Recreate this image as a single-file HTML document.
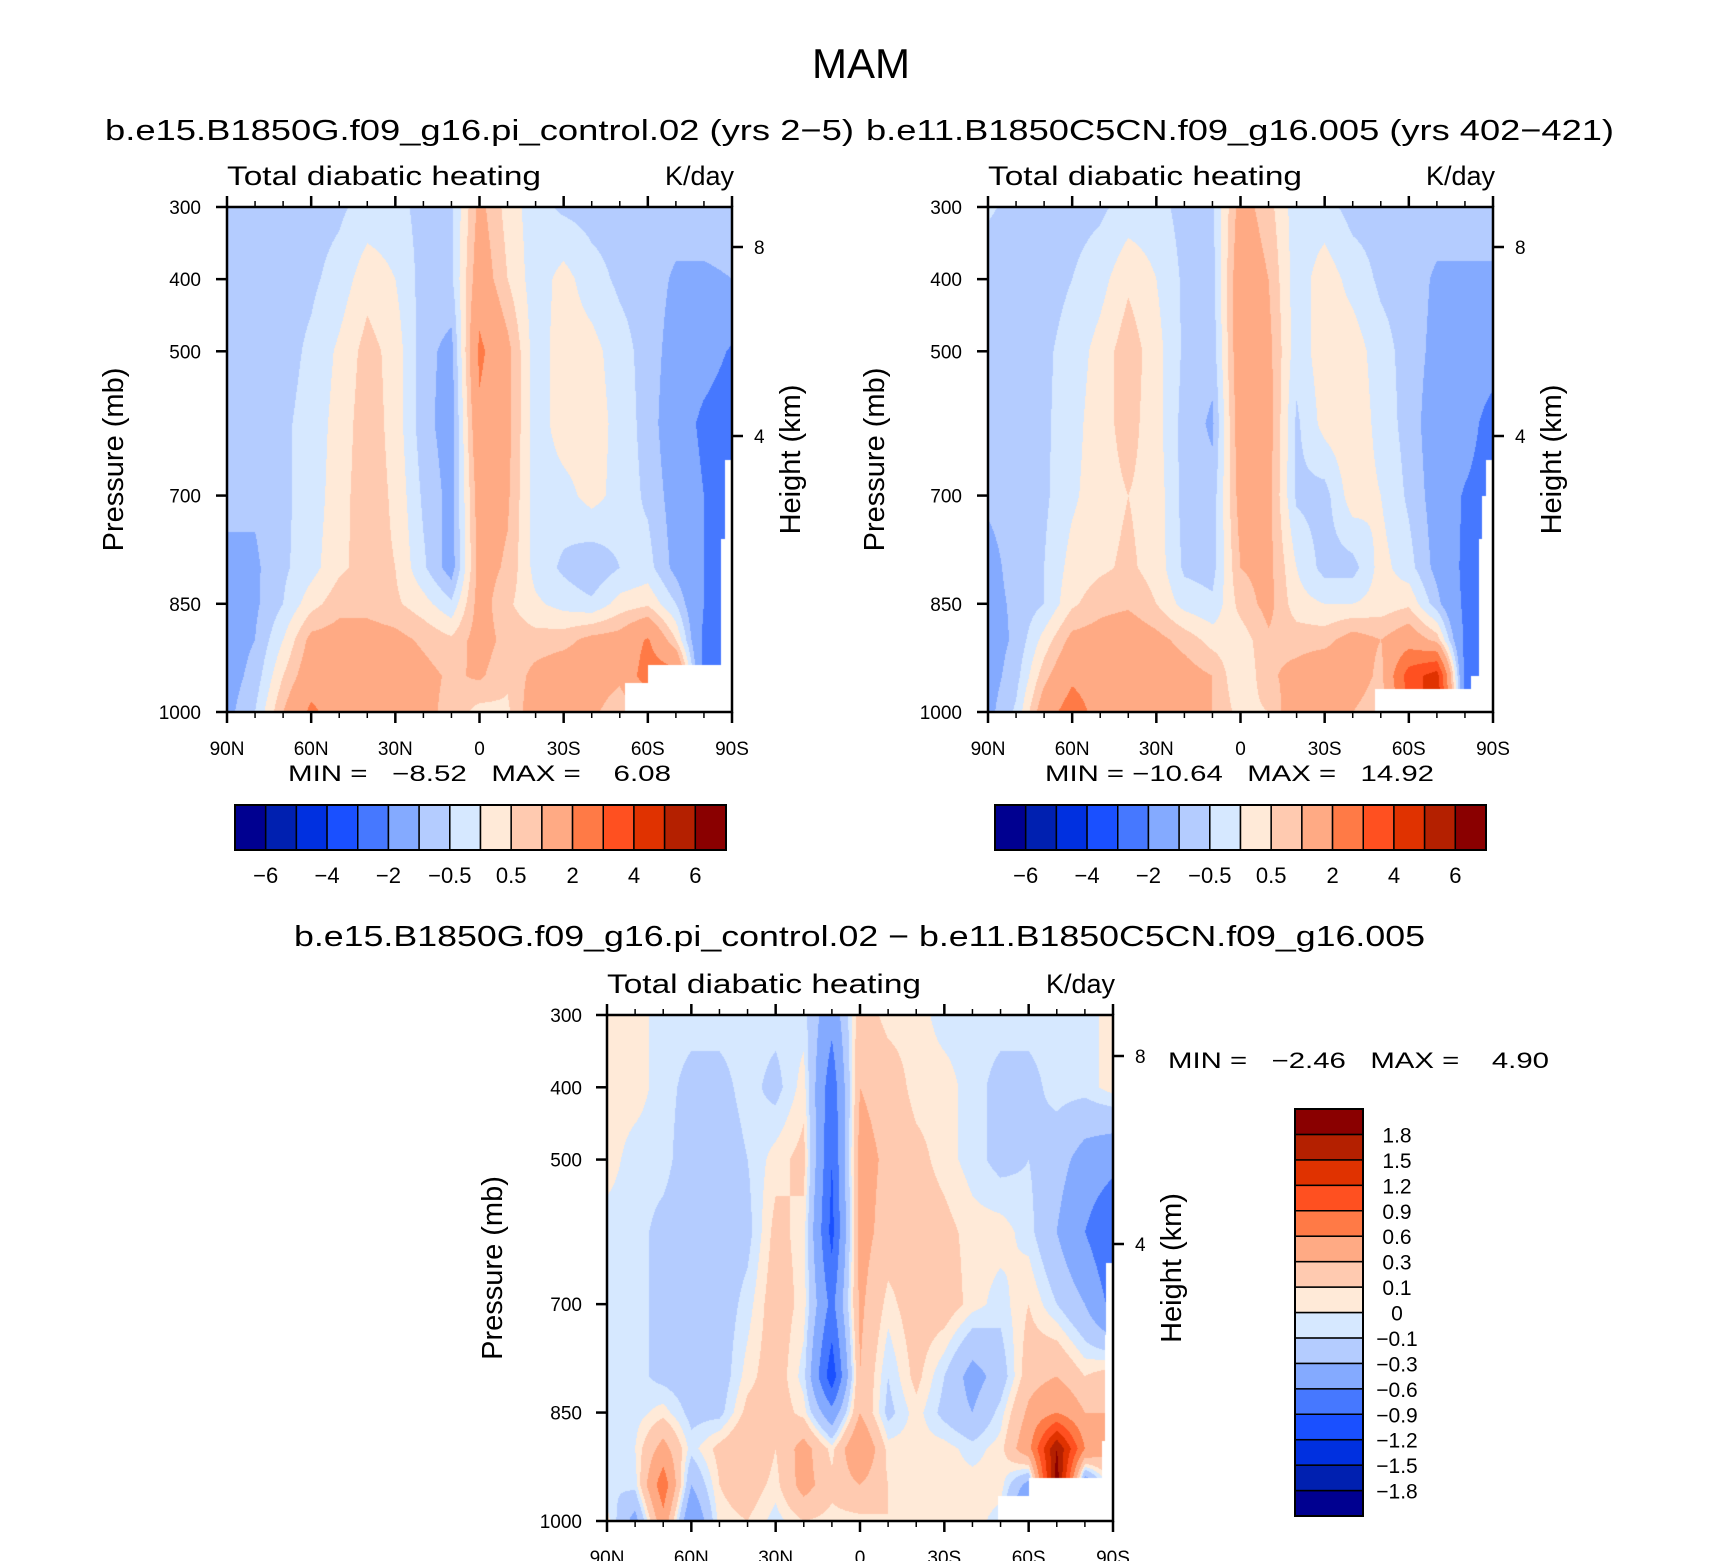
<!DOCTYPE html>
<html><head><meta charset="utf-8">
<style>
html,body{margin:0;padding:0;background:#fff;}
#root{position:relative;width:1710px;height:1561px;overflow:hidden;background:#fff;font-family:"Liberation Sans",sans-serif;}
canvas{position:absolute;}
svg{position:absolute;left:0;top:0;}
</style></head>
<body>
<div id="root">
<canvas id="cL"></canvas>
<canvas id="cR"></canvas>
<canvas id="cD"></canvas>
<svg id="ov" width="1710" height="1561"></svg>
</div>
<script>
const lats = [90,80,70,60,50,40,30,20,10,0,-10,-20,-30,-40,-50,-60,-70,-80,-90];
const plevs = [300,400,500,600,700,800,850,900,950,1000];
const colors = ["#000090","#0020b0","#0030e0","#1a50ff","#4678ff","#84aaff","#b4ccff","#d6e8ff","#ffead8","#ffcab0","#ffaa84","#ff7a46","#ff5020","#e03200","#b42000","#8a0000"];
const topLevels = [-6,-5,-4,-3,-2,-1,-0.5,0,0.5,1,2,3,4,5,6];
const topLabels = ["−6","−4","−2","−0.5","0.5","2","4","6"];
const diffLevels = [-1.8,-1.5,-1.2,-0.9,-0.6,-0.3,-0.1,0,0.1,0.3,0.6,0.9,1.2,1.5,1.8];
const diffLabels = ["−1.8","−1.5","−1.2","−0.9","−0.6","−0.3","−0.1","0","0.1","0.3","0.6","0.9","1.2","1.5","1.8"];
const xTickLabels = ["90N","60N","30N","0","30S","60S","90S"];
const yTickValues = [300,400,500,700,850,1000];
const leftVals = [
[-0.7,-0.7,-0.7,-0.7,-0.6,-0.3,-0.3,-0.7,-0.6,1.2,0.3,-0.3,-0.6,-0.7,-0.7,-0.7,-0.7,-0.7,-0.7],
[-0.7,-0.7,-0.7,-0.6,-0.3,0.3,0.0,-0.7,-0.6,1.5,0.5,-0.3,0.2,-0.3,-0.6,-0.7,-1.1,-1.1,-1.0],
[-0.7,-0.7,-0.7,-0.4,0.1,0.7,0.3,-0.8,-1.2,2.2,1.2,-0.3,0.3,0.2,-0.3,-0.7,-1.3,-1.6,-2.1],
[-0.7,-0.7,-0.6,-0.3,0.2,0.8,0.3,-0.8,-1.3,1.8,1.2,-0.3,0.3,0.3,-0.2,-0.7,-1.5,-2.2,-2.5],
[-0.8,-0.9,-0.6,-0.3,0.3,0.8,0.4,-0.6,-1.2,1.4,1.1,-0.3,-0.2,0.2,-0.2,-0.6,-1.3,-2.0,-2.4],
[-1.2,-1.1,-0.6,-0.2,0.4,0.7,0.5,-0.4,-1.3,1.3,0.9,-0.2,-0.6,-0.9,-0.5,-0.3,-1.2,-2.0,-2.3],
[-1.2,-1.1,-0.5,0.3,0.8,0.8,0.6,0.2,-0.4,1.3,0.6,0.1,-0.2,-0.4,0.2,0.4,-0.5,-2.0,-2.3],
[-1.3,-1.0,0.0,1.2,1.3,1.3,1.2,0.9,0.6,1.3,0.8,0.7,0.8,1.2,1.3,2.1,0.5,-2.2,-2.5],
[-1.3,-0.8,0.5,1.5,1.5,1.6,1.4,1.2,0.9,1.1,0.6,1.2,1.5,1.5,1.2,2.5,2.5,-2.4,-2.5],
[-1.2,-0.5,1.0,2.2,1.5,1.5,1.4,1.2,0.8,0.3,0.4,1.5,1.5,1.2,0.5,1.2,1.5,-2.4,-2.5]];
const rightVals = [
[-0.45,-0.6,-0.7,-0.7,-0.6,-0.3,-0.3,-0.7,-0.6,1.3,0.7,-0.3,-0.3,-0.7,-0.7,-0.7,-0.7,-0.7,-0.7],
[-0.7,-0.7,-0.7,-0.5,-0.2,0.4,0.0,-0.6,-0.7,1.6,1.0,-0.3,0.3,-0.2,-0.6,-0.7,-1.1,-1.1,-1.1],
[-0.7,-0.7,-0.6,-0.3,0.2,0.8,0.2,-0.6,-0.8,1.6,1.2,-0.3,0.3,0.3,-0.3,-0.7,-1.2,-1.3,-1.4],
[-0.7,-0.7,-0.6,-0.2,0.3,0.7,0.2,-0.7,-1.1,1.5,1.3,-0.6,0.2,0.4,-0.2,-0.7,-1.4,-1.5,-2.5],
[-0.9,-0.8,-0.6,-0.1,0.3,0.5,0.3,-0.7,-0.8,1.3,1.2,-0.6,-0.7,0.3,0.0,-0.6,-1.3,-2.1,-2.5],
[-1.2,-0.8,-0.5,0.2,0.4,0.6,0.3,-0.6,-0.7,1.0,1.2,0.0,-0.7,-0.7,0.2,-0.3,-1.2,-2.2,-2.5],
[-1.2,-0.9,-0.5,0.4,0.8,0.9,0.5,-0.2,-0.4,0.7,1.2,0.2,0.0,0.0,0.2,0.4,-0.8,-2.2,-2.5],
[-1.3,-0.9,0.2,1.2,1.3,1.5,1.2,0.8,0.3,0.2,0.9,0.8,0.8,1.3,1.0,1.5,0.8,-2.2,-2.5],
[-1.3,-0.7,0.8,1.8,1.5,1.6,1.4,1.3,1.0,0.0,0.9,1.2,1.6,1.5,0.8,3.5,4.5,-2.3,-2.5],
[-1.2,-0.4,1.5,2.5,1.6,1.6,1.5,1.3,1.0,0.3,0.5,1.6,1.5,1.0,0.5,3.0,5.0,-2.4,-2.5]];
const diffVals = [
[0.05,0.05,-0.05,-0.05,-0.05,-0.05,-0.05,-0.05,-0.5,0.2,0.05,0.05,-0.05,-0.05,-0.05,-0.05,-0.05,-0.05,0.05],
[0.05,0.05,-0.05,-0.15,-0.15,-0.05,-0.15,0.05,-0.8,0.3,0.2,0.05,0.05,-0.05,-0.15,-0.15,-0.05,-0.05,0.05],
[0.05,-0.05,-0.05,-0.2,-0.2,-0.1,0.05,0.15,-0.9,0.4,0.25,0.15,0.05,-0.05,-0.15,-0.1,-0.2,-0.4,-0.5],
[-0.05,-0.05,-0.15,-0.2,-0.2,-0.15,0.15,0.05,-1.0,0.4,0.2,0.2,0.15,0.05,0.05,-0.05,-0.3,-0.6,-0.9],
[-0.05,-0.05,-0.15,-0.2,-0.2,-0.05,0.2,0.05,-0.7,0.35,0.05,0.2,0.2,0.05,-0.05,0.1,-0.1,-0.3,-0.7],
[-0.05,-0.05,-0.15,-0.2,-0.2,0.05,0.2,-0.05,-1.1,0.3,-0.1,0.15,-0.1,-0.4,-0.2,0.2,0.3,0.1,0.2],
[-0.05,-0.05,0.05,-0.15,-0.15,0.15,0.2,0.05,-0.5,0.3,-0.15,0.05,-0.15,-0.3,-0.05,0.35,0.6,0.3,0.3],
[-0.05,0.0,0.4,-0.05,0.15,0.3,0.1,0.4,0.05,0.6,0.05,0.05,0.05,-0.05,0.05,0.5,1.8,0.6,0.3],
[-0.1,-0.05,0.8,-0.3,0.1,0.2,0.05,0.4,0.15,0.3,0.1,0.05,0.05,0.05,0.05,-0.4,2.0,-0.6,0.2],
[0.05,-0.4,0.5,-0.6,0.05,0.1,-0.05,0.1,0.05,0.05,0.1,0.05,0.05,0.05,-0.05,-0.8,2.0,-0.8,0.0]];
// below-ground masks: [southern latitude start, southern latitude end, pressure top]
const leftMask = [[52,90,960],[60,90,935],[86,90,760],[87.5,90,650]];
const rightMask = [[48,90,968],[82,90,950],[85,90,760],[86,90,700],[87.6,90,650]];
const diffMask = [[49,90,965],[60,90,940],[86,90,889],[87,90,743],[87.6,90,643]];

const NS="http://www.w3.org/2000/svg";
const ov=document.getElementById('ov');
function el(tag,attrs,parent){const e=document.createElementNS(NS,tag);for(const k in attrs)e.setAttribute(k,attrs[k]);(parent||ov).appendChild(e);return e;}
function txt(s,attrs){const t=el('text',Object.assign({fill:'#000','font-family':'Liberation Sans, sans-serif'},attrs));t.textContent=s;return t;}
function hex(c){return [parseInt(c.substr(1,2),16),parseInt(c.substr(3,2),16),parseInt(c.substr(5,2),16)];}
const rgb=colors.map(hex);

function interp(vals,lat,p){
  let fi=(90-lat)/10; fi=Math.max(0,Math.min(17.9999,fi));
  const i=Math.floor(fi), ti=fi-i;
  let j=0; while(j<plevs.length-2 && p>plevs[j+1]) j++;
  let tj=(p-plevs[j])/(plevs[j+1]-plevs[j]); tj=Math.max(0,Math.min(1,tj));
  const a=vals[j][i]*(1-ti)+vals[j][i+1]*ti;
  const b=vals[j+1][i]*(1-ti)+vals[j+1][i+1]*ti;
  return a*(1-tj)+b*tj;
}
function drawField(id,vals,levels,mask,x0,y0,w,h){
  const c=document.getElementById(id);
  c.width=w;c.height=h;c.style.left=x0+'px';c.style.top=y0+'px';
  const ctx=c.getContext('2d');const img=ctx.createImageData(w,h);
  for(let py=0;py<h;py++){
    const p=300+700*(py+0.5)/h;
    for(let px=0;px<w;px++){
      const lat=90-180*(px+0.5)/w;
      let k=(py*w+px)*4;
      let masked=false;
      for(const m of mask){if(-lat>m[0]&&-lat<=m[1]&&p>m[2]){masked=true;break;}}
      let col=[255,255,255];
      if(!masked){const v=interp(vals,lat,p);let idx=0;while(idx<levels.length&&v>=levels[idx])idx++;col=rgb[idx];}
      img.data[k]=col[0];img.data[k+1]=col[1];img.data[k+2]=col[2];img.data[k+3]=255;
    }
  }
  ctx.putImageData(img,0,0);
}

function axes(name,x0,y0,w,h,ylabX,pressX,heightX,km8,km4){
  const g=el('g',{});
  
  
  const xs=lat=>x0+(90-lat)/180*w;
  const ys=p=>y0+(p-300)/700*h;
  for(let lat=90;lat>=-90;lat-=10){
    const major=(lat%30===0);const L=major?11:6;
    el('line',{x1:xs(lat),x2:xs(lat),y1:y0,y2:y0-L,stroke:'#000','stroke-width':major?2.5:1.5},g);
    el('line',{x1:xs(lat),x2:xs(lat),y1:y0+h,y2:y0+h+L,stroke:'#000','stroke-width':major?2.5:1.5},g);
  }
  xTickLabels.forEach((s,i)=>{const t=txt(s,{x:xs(90-30*i),y:y0+h+43,'font-size':19,'text-anchor':'middle'});g.appendChild(t);});
  yTickValues.forEach(p=>{
    el('line',{x1:x0,x2:x0-11,y1:ys(p),y2:ys(p),stroke:'#000','stroke-width':2.5},g);
    const t=txt(String(p),{x:ylabX,y:ys(p)+7,'font-size':19,'text-anchor':'end'});g.appendChild(t);
  });
  [[km8,'8'],[km4,'4']].forEach(([y,s])=>{
    el('line',{x1:x0+w,x2:x0+w+11,y1:y,y2:y,stroke:'#000','stroke-width':2.5},g);
    const t=txt(s,{x:x0+w+22,y:y+7,'font-size':19});g.appendChild(t);
  });
  el('rect',{x:x0,y:y0,width:w,height:h,fill:'none',stroke:'#000','stroke-width':2.5},g);
  const pt=txt('Pressure (mb)',{x:0,y:0,'font-size':29,'text-anchor':'middle',transform:`translate(${pressX},${y0+h/2}) rotate(-90)`});
  g.appendChild(pt);
  const ht=txt('Height (km)',{x:0,y:0,'font-size':29,'text-anchor':'middle',transform:`translate(${heightX},${y0+h/2}) rotate(-90)`});
  g.appendChild(ht);
  const a=txt('Total diabatic heating',{x:x0,y:y0-22,'font-size':27,textLength:314,lengthAdjust:'spacingAndGlyphs'});
  g.appendChild(a);
  const b=txt('K/day',{x:x0+w+2,y:y0-22,'font-size':27,'text-anchor':'end'});
  g.appendChild(b);
}

function hbar(name,x0,y0,w,h){
  const g=el('g',{});
  
  
  const bw=w/colors.length;
  colors.forEach((c,i)=>{const r=el('rect',{x:x0+i*bw,y:y0,width:bw,height:h,fill:c,stroke:'#000','stroke-width':1.5},g);});
  el('rect',{x:x0,y:y0,width:w,height:h,fill:'none',stroke:'#000','stroke-width':2},g);
  topLabels.forEach((s,i)=>{const t=txt(s,{x:x0+(1+2*i)*bw,y:y0+h+33,'font-size':22,'text-anchor':'middle'});g.appendChild(t);});
}
function vbar(name,x0,y0,w,h){
  const g=el('g',{});
  
  
  const bh=h/colors.length;
  colors.forEach((c,i)=>{const r=el('rect',{x:x0,y:y0+h-(i+1)*bh,width:w,height:bh,fill:c,stroke:'#000','stroke-width':1.5},g);});
  el('rect',{x:x0,y:y0,width:w,height:h,fill:'none',stroke:'#000','stroke-width':2},g);
  diffLabels.forEach((s,i)=>{const t=txt(s,{x:x0+w+34,y:y0+h-(i+1)*bh+8,'font-size':21,'text-anchor':'middle'});g.appendChild(t);});
}

drawField('cL',leftVals,topLevels,leftMask,227,207,505,505);
drawField('cR',rightVals,topLevels,rightMask,988,207,505,505);
drawField('cD',diffVals,diffLevels,diffMask,607,1015,506,506);

let t;
t=txt('MAM',{x:861,y:78,'font-size':42,'text-anchor':'middle'});

t=txt('b.e15.B1850G.f09_g16.pi_control.02 (yrs 2−5)',{x:105,y:140,'font-size':29,textLength:749,lengthAdjust:'spacingAndGlyphs'});

t=txt('b.e11.B1850C5CN.f09_g16.005 (yrs 402−421)',{x:866,y:140,'font-size':29,textLength:748,lengthAdjust:'spacingAndGlyphs'});

t=txt('b.e15.B1850G.f09_g16.pi_control.02 − b.e11.B1850C5CN.f09_g16.005',{x:294,y:946,'font-size':29,textLength:1131,lengthAdjust:'spacingAndGlyphs'});


axes('left-panel',227,207,505,505,201,123,800,247,436);
axes('right-panel',988,207,505,505,962,884,1561,247,436);
axes('difference-panel',607,1015,506,506,582,502,1181,1056,1244);

t=txt('MIN =   −8.52   MAX =    6.08',{x:288,y:781,'font-size':22,textLength:383,lengthAdjust:'spacingAndGlyphs',style:'white-space:pre'});

t=txt('MIN = −10.64   MAX =   14.92',{x:1045,y:781,'font-size':22,textLength:389,lengthAdjust:'spacingAndGlyphs',style:'white-space:pre'});

t=txt('MIN =   −2.46   MAX =    4.90',{x:1168,y:1068,'font-size':22,textLength:381,lengthAdjust:'spacingAndGlyphs',style:'white-space:pre'});


hbar('left-colorbar',235,805,491,45);
hbar('right-colorbar',995,805,491,45);
vbar('difference-colorbar',1295,1109,68,407);
</script>
</body></html>
